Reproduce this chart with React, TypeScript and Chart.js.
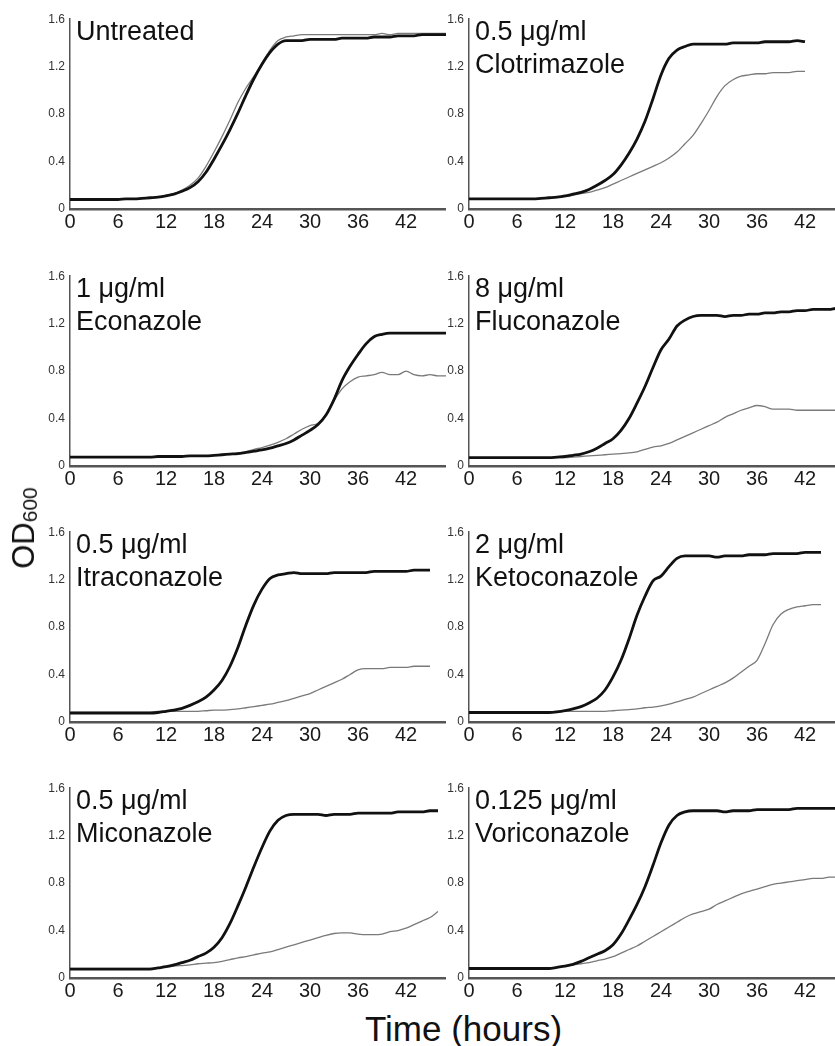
import React, { useEffect, useRef } from 'react';
import { Chart, registerables } from 'chart.js';

Chart.register(...registerables);

const FONT = '"Liberation Sans", Arial, Helvetica, sans-serif';

const HOURS = [0, 1, 2, 3, 4, 5, 6, 7, 8, 9, 10, 11, 12, 13, 14, 15, 16, 17, 18, 19, 20, 21, 22, 23, 24, 25, 26, 27, 28, 29, 30, 31, 32, 33, 34, 35, 36, 37, 38, 39, 40, 41, 42, 43, 44, 45, 46, 47];
const X_TICKS = [0, 6, 12, 18, 24, 30, 36, 42];
const Y_TICKS = [0, 0.4, 0.8, 1.2, 1.6];

const X_AXIS_TITLE = 'Time (hours)';
const Y_AXIS_TITLE = 'OD';
const Y_AXIS_SUB = '600';

// Panel labels
const LABEL_UNTREATED = ['Untreated'];
const LABEL_CLOTRIMAZOLE = ['0.5 \u03bcg/ml', 'Clotrimazole'];
const LABEL_ECONAZOLE = ['1 \u03bcg/ml', 'Econazole'];
const LABEL_FLUCONAZOLE = ['8 \u03bcg/ml', 'Fluconazole'];
const LABEL_ITRACONAZOLE = ['0.5 \u03bcg/ml', 'Itraconazole'];
const LABEL_KETOCONAZOLE = ['2 \u03bcg/ml', 'Ketoconazole'];
const LABEL_MICONAZOLE = ['0.5 \u03bcg/ml', 'Miconazole'];
const LABEL_VORICONAZOLE = ['0.125 \u03bcg/ml', 'Voriconazole'];

// OD600 readings, one value per hour (black curve and gray curve of each panel)
const UNTREATED_BLACK = [0.08, 0.08, 0.08, 0.08, 0.08, 0.08, 0.08, 0.085, 0.085, 0.09, 0.095, 0.1, 0.11, 0.125, 0.15, 0.18, 0.23, 0.31, 0.42, 0.54, 0.67, 0.81, 0.96, 1.1, 1.22, 1.32, 1.39, 1.42, 1.42, 1.42, 1.43, 1.43, 1.43, 1.43, 1.44, 1.44, 1.44, 1.44, 1.45, 1.45, 1.45, 1.46, 1.46, 1.46, 1.47, 1.47, 1.47, 1.47];
const UNTREATED_GRAY = [0.08, 0.08, 0.08, 0.08, 0.08, 0.08, 0.08, 0.085, 0.085, 0.09, 0.095, 0.1, 0.115, 0.13, 0.16, 0.2, 0.26, 0.36, 0.48, 0.61, 0.75, 0.9, 1.02, 1.12, 1.23, 1.34, 1.42, 1.45, 1.46, 1.47, 1.47, 1.47, 1.47, 1.47, 1.47, 1.47, 1.47, 1.47, 1.47, 1.48, 1.47, 1.48, 1.48, 1.48, 1.48, 1.48, 1.48, 1.48];

const CLOTRIMAZOLE_BLACK = [0.085, 0.085, 0.085, 0.085, 0.085, 0.085, 0.085, 0.085, 0.085, 0.09, 0.095, 0.1, 0.11, 0.125, 0.14, 0.165, 0.2, 0.24, 0.29, 0.37, 0.47, 0.59, 0.74, 0.93, 1.13, 1.27, 1.34, 1.37, 1.39, 1.39, 1.39, 1.39, 1.39, 1.4, 1.4, 1.4, 1.4, 1.41, 1.41, 1.41, 1.41, 1.42, 1.41];
const CLOTRIMAZOLE_GRAY = [0.085, 0.085, 0.085, 0.085, 0.085, 0.085, 0.085, 0.085, 0.085, 0.09, 0.095, 0.1, 0.105, 0.115, 0.13, 0.14, 0.16, 0.18, 0.21, 0.24, 0.27, 0.3, 0.33, 0.36, 0.39, 0.43, 0.48, 0.55, 0.62, 0.72, 0.83, 0.95, 1.04, 1.09, 1.12, 1.13, 1.14, 1.14, 1.15, 1.15, 1.15, 1.16, 1.16];

const ECONAZOLE_BLACK = [0.075, 0.075, 0.075, 0.075, 0.075, 0.075, 0.075, 0.075, 0.075, 0.075, 0.075, 0.08, 0.08, 0.08, 0.08, 0.085, 0.085, 0.085, 0.09, 0.095, 0.1, 0.105, 0.115, 0.125, 0.135, 0.15, 0.17, 0.19, 0.22, 0.26, 0.3, 0.35, 0.43, 0.56, 0.72, 0.84, 0.94, 1.03, 1.09, 1.11, 1.12, 1.12, 1.12, 1.12, 1.12, 1.12, 1.12, 1.12];
const ECONAZOLE_GRAY = [0.075, 0.075, 0.075, 0.075, 0.075, 0.075, 0.075, 0.075, 0.075, 0.075, 0.075, 0.08, 0.08, 0.08, 0.08, 0.085, 0.085, 0.085, 0.09, 0.095, 0.1, 0.11, 0.12, 0.14, 0.155, 0.175, 0.2, 0.23, 0.27, 0.31, 0.34, 0.36, 0.43, 0.55, 0.65, 0.71, 0.75, 0.76, 0.77, 0.79, 0.77, 0.77, 0.8, 0.77, 0.76, 0.77, 0.76, 0.76];

const FLUCONAZOLE_BLACK = [0.07, 0.07, 0.07, 0.07, 0.07, 0.07, 0.07, 0.07, 0.07, 0.07, 0.07, 0.075, 0.08, 0.09, 0.1, 0.12, 0.15, 0.19, 0.23, 0.3, 0.4, 0.53, 0.67, 0.83, 0.98, 1.07, 1.18, 1.23, 1.26, 1.27, 1.27, 1.27, 1.26, 1.27, 1.27, 1.28, 1.28, 1.29, 1.29, 1.3, 1.3, 1.31, 1.31, 1.32, 1.32, 1.32, 1.33, 1.33];
const FLUCONAZOLE_GRAY = [0.07, 0.07, 0.07, 0.07, 0.07, 0.07, 0.07, 0.07, 0.07, 0.07, 0.07, 0.07, 0.07, 0.075, 0.08, 0.085, 0.09, 0.095, 0.1, 0.105, 0.11, 0.12, 0.14, 0.16, 0.17, 0.19, 0.22, 0.25, 0.28, 0.31, 0.34, 0.37, 0.41, 0.44, 0.47, 0.49, 0.51, 0.5, 0.48, 0.48, 0.48, 0.47, 0.47, 0.47, 0.47, 0.47, 0.47, 0.47];

const ITRACONAZOLE_BLACK = [0.075, 0.075, 0.075, 0.075, 0.075, 0.075, 0.075, 0.075, 0.075, 0.075, 0.075, 0.08, 0.09, 0.1, 0.115, 0.14, 0.17, 0.21, 0.27, 0.35, 0.47, 0.63, 0.82, 0.99, 1.12, 1.21, 1.24, 1.25, 1.26, 1.25, 1.25, 1.25, 1.25, 1.26, 1.26, 1.26, 1.26, 1.26, 1.27, 1.27, 1.27, 1.27, 1.27, 1.28, 1.28, 1.28];
const ITRACONAZOLE_GRAY = [0.085, 0.085, 0.085, 0.085, 0.085, 0.085, 0.085, 0.085, 0.085, 0.085, 0.085, 0.09, 0.09, 0.09, 0.09, 0.09, 0.09, 0.095, 0.1, 0.1, 0.105, 0.11, 0.12, 0.13, 0.14, 0.15, 0.165, 0.18, 0.2, 0.22, 0.24, 0.27, 0.3, 0.33, 0.36, 0.4, 0.44, 0.45, 0.45, 0.45, 0.46, 0.46, 0.46, 0.47, 0.47, 0.47];

const KETOCONAZOLE_BLACK = [0.08, 0.08, 0.08, 0.08, 0.08, 0.08, 0.08, 0.08, 0.08, 0.08, 0.08, 0.085, 0.095, 0.11, 0.13, 0.16, 0.2, 0.27, 0.38, 0.52, 0.7, 0.9, 1.06, 1.19, 1.23, 1.31, 1.38, 1.4, 1.4, 1.4, 1.4, 1.39, 1.4, 1.4, 1.4, 1.41, 1.41, 1.41, 1.42, 1.42, 1.42, 1.42, 1.43, 1.43, 1.43];
const KETOCONAZOLE_GRAY = [0.085, 0.085, 0.085, 0.085, 0.085, 0.085, 0.085, 0.085, 0.085, 0.085, 0.085, 0.09, 0.09, 0.09, 0.09, 0.09, 0.09, 0.09, 0.095, 0.1, 0.105, 0.11, 0.12, 0.125, 0.135, 0.15, 0.17, 0.19, 0.21, 0.24, 0.27, 0.3, 0.33, 0.37, 0.42, 0.47, 0.52, 0.66, 0.82, 0.91, 0.95, 0.97, 0.98, 0.99, 0.99];

const MICONAZOLE_BLACK = [0.075, 0.075, 0.075, 0.075, 0.075, 0.075, 0.075, 0.075, 0.075, 0.075, 0.075, 0.085, 0.095, 0.11, 0.13, 0.15, 0.18, 0.21, 0.26, 0.34, 0.46, 0.61, 0.77, 0.94, 1.1, 1.24, 1.33, 1.37, 1.38, 1.38, 1.38, 1.38, 1.37, 1.38, 1.38, 1.38, 1.39, 1.39, 1.39, 1.39, 1.39, 1.4, 1.4, 1.4, 1.4, 1.41, 1.41];
const MICONAZOLE_GRAY = [0.08, 0.08, 0.08, 0.08, 0.08, 0.08, 0.08, 0.08, 0.08, 0.08, 0.08, 0.085, 0.09, 0.1, 0.105, 0.11, 0.12, 0.125, 0.13, 0.14, 0.155, 0.17, 0.18, 0.195, 0.21, 0.22, 0.24, 0.26, 0.28, 0.3, 0.32, 0.34, 0.36, 0.375, 0.38, 0.38, 0.37, 0.365, 0.365, 0.37, 0.39, 0.4, 0.42, 0.45, 0.48, 0.51, 0.56];

const VORICONAZOLE_BLACK = [0.08, 0.08, 0.08, 0.08, 0.08, 0.08, 0.08, 0.08, 0.08, 0.08, 0.08, 0.09, 0.1, 0.115, 0.14, 0.17, 0.2, 0.23, 0.28, 0.37, 0.49, 0.62, 0.77, 0.95, 1.14, 1.29, 1.37, 1.4, 1.41, 1.41, 1.41, 1.41, 1.4, 1.41, 1.41, 1.41, 1.42, 1.42, 1.42, 1.42, 1.42, 1.43, 1.43, 1.43, 1.43, 1.43, 1.43, 1.44];
const VORICONAZOLE_GRAY = [0.08, 0.08, 0.08, 0.08, 0.08, 0.08, 0.08, 0.08, 0.08, 0.08, 0.08, 0.09, 0.1, 0.11, 0.12, 0.13, 0.145, 0.16, 0.18, 0.21, 0.24, 0.27, 0.31, 0.35, 0.39, 0.43, 0.47, 0.51, 0.54, 0.56, 0.58, 0.62, 0.65, 0.68, 0.71, 0.73, 0.75, 0.77, 0.79, 0.8, 0.81, 0.82, 0.83, 0.84, 0.84, 0.85, 0.85, 0.86];

const X_MAX = 47;
const Y_MAX = 1.6;

const PLOT_W = 376;
const PLOT_H = 190;
const Y_AXIS_W = 40;
const X_AXIS_H = 30;
const PAD_TOP = 12;

const COL_LEFT = [70, 469];
const ROW_TOP = [19, 276, 532, 788];

type PanelProps = {
  lines: string[];
  black: number[];
  gray: number[];
  col: number;
  row: number;
};

function Panel({ lines, black, gray, col, row }: PanelProps) {
  const ref = useRef<HTMLCanvasElement | null>(null);

  useEffect(() => {
    const canvas = ref.current;
    if (!canvas) return;
    const labelPlugin = {
      id: 'panelLabel',
      afterDraw(chart: any) {
        const { ctx, chartArea } = chart;
        ctx.save();
        ctx.font = `27px ${FONT}`;
        ctx.fillStyle = '#111';
        ctx.textBaseline = 'alphabetic';
        ctx.textAlign = 'left';
        lines.forEach((l, i) => {
          ctx.fillText(l, chartArea.left + 6, chartArea.top + 21 + i * 33);
        });
        ctx.restore();
      },
    };
    const chart = new Chart(canvas, {
      type: 'line',
      data: {
        datasets: [
          {
            data: black.map((v, i) => ({ x: HOURS[i], y: v })),
            borderColor: '#111',
            borderWidth: 2.8,
            pointRadius: 0,
            cubicInterpolationMode: 'monotone',
            fill: false,
          },
          {
            data: gray.map((v, i) => ({ x: HOURS[i], y: v })),
            borderColor: '#7a7a7a',
            borderWidth: 1.3,
            pointRadius: 0,
            cubicInterpolationMode: 'monotone',
            fill: false,
          },
        ],
      },
      options: {
        animation: false,
        responsive: false,
        maintainAspectRatio: false,
        devicePixelRatio: 1,
        layout: { padding: { top: PAD_TOP, left: 0, right: 0, bottom: 0 } },
        plugins: {
          legend: { display: false },
          tooltip: { enabled: false },
          title: { display: false },
        },
        scales: {
          x: {
            type: 'linear',
            min: 0,
            max: X_MAX,
            afterBuildTicks: (scale: any) => {
              scale.ticks = X_TICKS.map((v) => ({ value: v }));
            },
            afterFit: (scale: any) => {
              scale.height = X_AXIS_H;
            },
            grid: { display: false, drawTicks: false },
            border: { display: true, color: '#555', width: 2.5 },
            ticks: {
              padding: 1,
              color: '#1a1a1a',
              font: { family: FONT, size: 20 },
              maxRotation: 0,
              autoSkip: false,
              callback: (v: any) => String(v),
            },
          },
          y: {
            type: 'linear',
            min: 0,
            max: Y_MAX,
            afterBuildTicks: (scale: any) => {
              scale.ticks = Y_TICKS.map((v) => ({ value: v }));
            },
            afterFit: (scale: any) => {
              scale.width = Y_AXIS_W;
            },
            grid: { display: false, drawTicks: false },
            border: { display: true, color: '#555', width: 1.5 },
            ticks: {
              padding: 5,
              color: '#333',
              font: { family: FONT, size: 12 },
              autoSkip: false,
              callback: (v: any) => (v === 0 ? '0' : Number(v).toFixed(1)),
            },
          },
        },
      },
      plugins: [labelPlugin],
    } as any);
    return () => chart.destroy();
  }, [lines, black, gray]);

  const left = COL_LEFT[col] - Y_AXIS_W;
  const top = ROW_TOP[row] - PAD_TOP;
  const w = Y_AXIS_W + PLOT_W;
  const h = PAD_TOP + PLOT_H + X_AXIS_H;
  return (
    <canvas
      ref={ref}
      width={w}
      height={h}
      style={{ position: 'absolute', left, top, width: w, height: h }}
    />
  );
}

const PANELS = [
  { lines: LABEL_UNTREATED, black: UNTREATED_BLACK, gray: UNTREATED_GRAY, col: 0, row: 0 },
  { lines: LABEL_CLOTRIMAZOLE, black: CLOTRIMAZOLE_BLACK, gray: CLOTRIMAZOLE_GRAY, col: 1, row: 0 },
  { lines: LABEL_ECONAZOLE, black: ECONAZOLE_BLACK, gray: ECONAZOLE_GRAY, col: 0, row: 1 },
  { lines: LABEL_FLUCONAZOLE, black: FLUCONAZOLE_BLACK, gray: FLUCONAZOLE_GRAY, col: 1, row: 1 },
  { lines: LABEL_ITRACONAZOLE, black: ITRACONAZOLE_BLACK, gray: ITRACONAZOLE_GRAY, col: 0, row: 2 },
  { lines: LABEL_KETOCONAZOLE, black: KETOCONAZOLE_BLACK, gray: KETOCONAZOLE_GRAY, col: 1, row: 2 },
  { lines: LABEL_MICONAZOLE, black: MICONAZOLE_BLACK, gray: MICONAZOLE_GRAY, col: 0, row: 3 },
  { lines: LABEL_VORICONAZOLE, black: VORICONAZOLE_BLACK, gray: VORICONAZOLE_GRAY, col: 1, row: 3 },
];

export default function App() {
  return (
    <div
      style={{
        position: 'fixed',
        left: 0,
        top: 0,
        width: 835,
        height: 1046,
        overflow: 'hidden',
        background: '#fff',
        fontFamily: FONT,
      }}
    >
      {PANELS.map((p, i) => (
        <Panel key={i} {...p} />
      ))}
      <div
        style={{
          position: 'absolute',
          left: 25,
          top: 528,
          transform: 'translate(-50%, -50%) rotate(-90deg)',
          whiteSpace: 'nowrap',
          fontSize: 31,
          lineHeight: '31px',
          color: '#111',
        }}
      >
        {Y_AXIS_TITLE}
        <span style={{ fontSize: 21, position: 'relative', top: 3 }}>{Y_AXIS_SUB}</span>
      </div>
      <div
        style={{
          position: 'absolute',
          left: 365,
          top: 1011,
          whiteSpace: 'nowrap',
          fontSize: 35,
          lineHeight: '35px',
          color: '#111',
        }}
      >
        {X_AXIS_TITLE}
      </div>
    </div>
  );
}
